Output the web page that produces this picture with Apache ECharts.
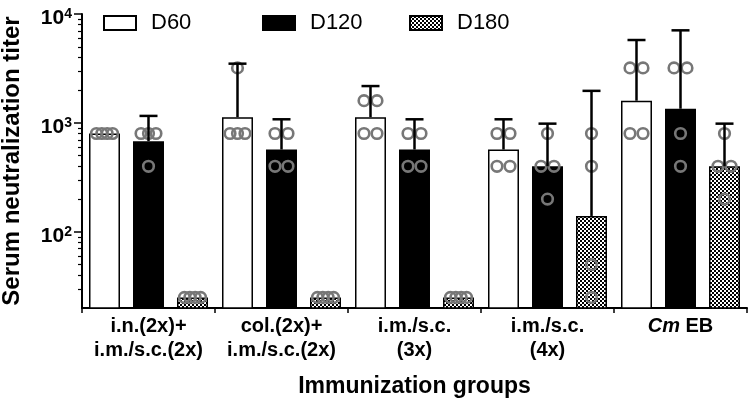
<!DOCTYPE html>
<html>
<head>
<meta charset="utf-8">
<script src="https://cdn.jsdelivr.net/npm/echarts@6/dist/echarts.min.js"></script>
<style>
  html, body { margin: 0; padding: 0; background: #fff; }
  #chart { width: 748px; height: 403px; }
</style>
</head>
<body>
<div id="chart"></div>
<script>
  // groups on the x axis
  const groups = ['i.n.(2x)+\ni.m./s.c.(2x)', 'col.(2x)+\ni.m./s.c.(2x)', 'i.m./s.c.\n(3x)', 'i.m./s.c.\n(4x)', 'Cm EB'];
  const days = ['D60', 'D120', 'D180'];

  // bar heights (geometric means) and top of the error bars
  const d60Mean = [800, 1130, 1130, 570, 1600];
  const d60Upper = [null, 3500, 2180, 1080, 5770];
  const d120Mean = [680, 570, 570, 400, 1350];
  const d120Upper = [1160, 1080, 1080, 985, 7080];
  const d180Mean = [25, 25, 25, 140, 400];
  const d180Upper = [null, null, null, 1970, 985];

  // single animals
  const d60Points = [[800, 800, 800, 800], [800, 800, 800, 3200], [800, 800, 1600, 1600], [400, 400, 800, 800], [800, 800, 3200, 3200]];
  const d120Points = [[400, 800, 800, 800], [400, 400, 800, 800], [400, 400, 800, 800], [200, 400, 400, 800], [400, 800, 3200, 3200]];
  const d180Points = [[25, 25, 25, 25], [25, 25, 25, 25], [25, 25, 25, 25], [25, 50, 400, 800], [200, 400, 400, 800]];

  // axis ticks
  const yTicks = [100, 1000, 10000];
  const yMinorTicks = [30, 40, 50, 60, 70, 80, 90, 200, 300, 400, 500, 600, 700, 800, 900, 2000, 3000, 4000, 5000, 6000, 7000, 8000, 9000];

  const FONT = '"Liberation Sans", Arial, sans-serif';
  const BAR_W = 0.233;
  const BAR_GAP = 0.42;

  // checkered fill for D180
  const tile = document.createElement('canvas');
  tile.width = 4; tile.height = 4;
  const ctx = tile.getContext('2d');
  ctx.fillStyle = '#fff'; ctx.fillRect(0, 0, 4, 4);
  ctx.fillStyle = '#000'; ctx.fillRect(0, 0, 2, 2); ctx.fillRect(2, 2, 2, 2);
  const checker = { image: tile, repeat: 'repeat' };

  const means = [d60Mean, d120Mean, d180Mean];
  const uppers = [d60Upper, d120Upper, d180Upper];
  const points = [d60Points, d120Points, d180Points];
  const fills = ['#fff', '#000', checker];

  // spread equal values side by side inside a bar
  let dotData = [];
  points.forEach((byGroup, day) => {
    byGroup.forEach((vals, g) => {
      let counts = {};
      vals.forEach(v => counts[v] = (counts[v] || 0) + 1);
      let seen = {};
      vals.forEach(v => {
        let n = counts[v];
        let i = seen[v] || 0;
        seen[v] = i + 1;
        let spacing = n > 1 ? 13 / Math.pow(n - 1, 0.8) : 0;
        dotData.push([g, v, day, (i - (n - 1) / 2) * spacing]);
      });
    });
  });

  let errData = [];
  uppers.forEach((arr, day) => {
    arr.forEach((u, g) => {
      if (u != null) errData.push([g, means[day][g], u, day]);
    });
  });

  function barShift(api, day) {
    let band = api.size([1, 0])[0];
    return (day - 1) * band * BAR_W * (1 + BAR_GAP);
  }

  let chart = echarts.init(document.getElementById('chart'));

  let series = days.map((d, i) => ({
    name: d,
    type: 'bar',
    barWidth: (BAR_W * 100) + '%',
    barGap: (BAR_GAP * 100) + '%',
    clip: true,
    itemStyle: { color: fills[i], borderColor: '#000', borderWidth: 1.5 },
    data: means[i],
    z: 2
  }));

  series.push({
    name: 'points',
    type: 'custom',
    z: 3,
    encode: { x: 0, y: 1 },
    data: dotData,
    renderItem(params, api) {
      let p = api.coord([api.value(0), api.value(1)]);
      return {
        type: 'circle',
        shape: { cx: p[0] + barShift(api, api.value(2)) + api.value(3), cy: p[1], r: 5.3 },
        style: { fill: 'none', stroke: '#777', lineWidth: 2.6 }
      };
    }
  });

  series.push({
    name: 'errors',
    type: 'custom',
    z: 4,
    encode: { x: 0, y: [1, 2] },
    data: errData,
    renderItem(params, api) {
      let m = api.coord([api.value(0), api.value(1)]);
      let u = api.coord([api.value(0), api.value(2)]);
      let x = m[0] + barShift(api, api.value(3));
      let st = { stroke: '#000', lineWidth: 2.5 };
      return {
        type: 'group',
        children: [
          { type: 'line', shape: { x1: x, y1: m[1], x2: x, y2: u[1] }, style: st },
          { type: 'line', shape: { x1: x - 9, y1: u[1], x2: x + 9, y2: u[1] }, style: st }
        ]
      };
    }
  });

  let legendBase = {
    top: 12,
    padding: 0,
    itemWidth: 32,
    itemHeight: 14,
    icon: 'rect',
    selectedMode: false,
    textStyle: { fontFamily: FONT, fontSize: 22, color: '#000', padding: [0, 0, 0, 10] }
  };

  chart.setOption({
    animation: false,
    backgroundColor: '#fff',
    legend: [
      Object.assign({}, legendBase, { left: 103, data: ['D60'] }),
      Object.assign({}, legendBase, { left: 262, data: ['D120'] }),
      Object.assign({}, legendBase, { left: 409, data: ['D180'] })
    ],
    grid: { left: 82, right: 1, top: 14, bottom: 95, containLabel: false, outerBoundsMode: 'none' },
    xAxis: {
      type: 'category',
      data: groups,
      name: 'Immunization groups',
      nameLocation: 'middle',
      nameGap: 67,
      nameTextStyle: { fontFamily: FONT, fontSize: 23, fontWeight: 'bold', color: '#000' },
      axisLine: { lineStyle: { color: '#000', width: 2 } },
      axisTick: { show: true, length: 5, interval: 0, lineStyle: { color: '#000', width: 1.5 } },
      axisLabel: {
        interval: 0,
        margin: 6,
        fontFamily: FONT,
        fontSize: 20,
        fontWeight: 'bold',
        color: '#000',
        lineHeight: 24,
        formatter: v => v.replace('Cm', '{i|Cm}'),
        rich: { i: { fontFamily: FONT, fontSize: 20, fontWeight: 'bold', fontStyle: 'italic', color: '#000' } }
      }
    },
    yAxis: [
      {
        type: 'log',
        logBase: 10,
        min: 20,
        max: 10000,
        name: 'Serum neutralization titer',
        nameLocation: 'middle',
        nameGap: 58,
        nameTextStyle: { fontFamily: FONT, fontSize: 24, fontWeight: 'bold', color: '#000' },
        axisLine: { show: true, lineStyle: { color: '#000', width: 2 } },
        axisTick: { show: true, length: 8, customValues: yTicks, lineStyle: { color: '#000', width: 1.5 } },
        splitLine: { show: false },
        axisLabel: {
          margin: 10,
          customValues: yTicks,
          fontFamily: FONT,
          fontSize: 21,
          fontWeight: 'bold',
          color: '#000',
          padding: [8, 0, 0, 0],
          formatter: v => '{b|10}{s|' + Math.round(Math.log10(v)) + '}',
          rich: {
            b: { fontFamily: FONT, fontSize: 21, fontWeight: 'bold', color: '#000', lineHeight: 21 },
            s: { fontFamily: FONT, fontSize: 14, fontWeight: 'bold', color: '#000', verticalAlign: 'top', lineHeight: 8 }
          }
        }
      },
      {
        type: 'log',
        logBase: 10,
        min: 20,
        max: 10000,
        position: 'left',
        axisLine: { show: false },
        axisLabel: { show: false },
        splitLine: { show: false },
        axisTick: { show: true, length: 4, customValues: yMinorTicks, lineStyle: { color: '#000', width: 1.2 } }
      }
    ],
    series: series
  });
</script>
</body>
</html>
